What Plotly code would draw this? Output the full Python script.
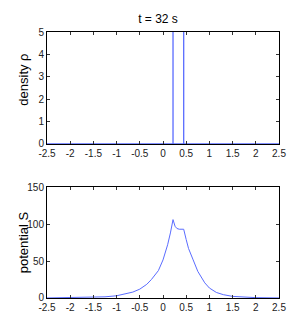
import plotly.graph_objects as go

# density rho (delta-like spikes, clipped at top of axis)
rho_x = [-2.5, 0.216, 0.216, 0.216, 0.446, 0.446, 0.446, 2.5]
rho_y = [0, 0, 60, 0, 0, 60, 0, 0]

# potential S
s_x = [-2.5, -2.0, -1.5, -1.25, -1.0, -0.85, -0.65, -0.5, -0.35, -0.25, -0.1, 0.0,
       0.1, 0.16, 0.216, 0.26, 0.3, 0.35, 0.4, 0.446, 0.5, 0.55, 0.65, 0.75, 0.9,
       1.0, 1.15, 1.3, 1.5, 1.75, 2.0, 2.5]
s_y = [0.1, 0.3, 0.9, 1.6, 3.0, 5.0, 8.0, 12.0, 18.5, 25.0, 37.0, 51.5,
       72.0, 88.0, 106.0, 97.0, 94.0, 93.0, 92.5, 93.0, 79.0, 67.0, 51.5, 36.0, 20.5,
       13.5, 7.5, 4.5, 2.2, 1.0, 0.5, 0.1]

x_ticks = [-2.5, -2, -1.5, -1, -0.5, 0, 0.5, 1, 1.5, 2, 2.5]
x_ticktext = ["-2.5", "-2", "-1.5", "-1", "-0.5", "0", "0.5", "1", "1.5", "2", "2.5"]
rho_ticks = [0, 1, 2, 3, 4, 5]
s_ticks = [0, 50, 100, 150]

title_text = "t = 32 s"
rho_label = "density ρ"
s_label = "potential S"

LINE = "#5a6cff"
FONT = "Liberation Sans Narrow, Arial Narrow, Liberation Sans, sans-serif"

fig = go.Figure()
fig.add_trace(go.Scatter(x=rho_x, y=rho_y, mode="lines", line=dict(color=LINE, width=1.3),
                         xaxis="x", yaxis="y", showlegend=False, cliponaxis=True))
fig.add_trace(go.Scatter(x=s_x, y=s_y, mode="lines", line=dict(color=LINE, width=1),
                         xaxis="x2", yaxis="y2", showlegend=False))

axis_common = dict(showline=True, linecolor="black", linewidth=1, mirror="ticks",
                   ticks="inside", ticklen=3, tickcolor="#333", showgrid=False,
                   zeroline=False, automargin=False,
                   tickfont=dict(family=FONT, size=10, color="#222"))

label_font = dict(family="Liberation Sans, sans-serif", size=13, color="black")

fig.update_layout(
    width=300, height=327,
    margin=dict(l=39, r=29, t=24, b=37, autoexpand=False),
    paper_bgcolor="white", plot_bgcolor="white",
    title=dict(text=title_text, x=0.5, xanchor="center", y=0.968, yanchor="middle",
               font=dict(family=FONT, size=12, color="black")),
    xaxis=dict(domain=[0, 1], range=[-2.5, 2.5], tickvals=x_ticks, ticktext=x_ticktext,
               anchor="y", **axis_common),
    yaxis=dict(domain=[0.579, 1], range=[0, 5], tickvals=rho_ticks, anchor="x",
               **axis_common),
    xaxis2=dict(domain=[0, 1], range=[-2.5, 2.5], tickvals=x_ticks, ticktext=x_ticktext,
                anchor="y2", **axis_common),
    yaxis2=dict(domain=[0, 0.417], range=[0, 150], tickvals=s_ticks, anchor="x2",
                **axis_common),
    annotations=[
        dict(text=rho_label, xref="paper", yref="paper", x=-0.1, y=0.82,
             xanchor="center", yanchor="middle", textangle=-90, showarrow=False,
             font=label_font),
        dict(text=s_label, xref="paper", yref="paper", x=-0.1, y=0.209,
             xanchor="center", yanchor="middle", textangle=-90, showarrow=False,
             font=label_font),
    ],
)

fig.write_html("out.html")
